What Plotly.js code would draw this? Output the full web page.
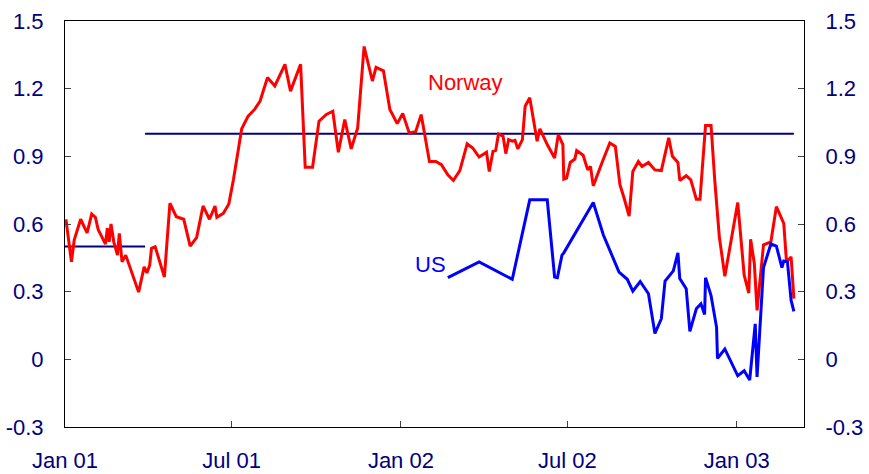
<!DOCTYPE html>
<html>
<head>
<meta charset="utf-8">
<script src="https://cdn.plot.ly/plotly-3.0.1.min.js"></script>
<style>html,body{margin:0;padding:0;background:#fff;}#chart{width:869px;height:474px;}</style>
</head>
<body>
<div id="chart"></div>
<script>
// Days since 2001-01-01 and values
var norwayDays = [1,7,10,17,24,29,33,36,44,46,48,50,53,57,59,62,66,80,86,89,92,94,98,108,114,121,129,136,143,150,157,163,165,172,178,183,192,199,206,212,220,228,239,245,256,261,269,276,284,291,297,304,311,318,325,334,338,346,353,361,367,374,381,387,396,403,409,416,422,429,437,443,450,458,461,465,468,471,476,479,482,486,489,492,497,500,505,508,513,516,524,532,536,541,542,545,549,554,556,563,568,571,574,584,592,598,603,607,613,617,623,627,634,641,648,656,660,666,668,675,680,686,690,696,702,706,711,717,731,738,743,745,749,752,759,767,773,781,784,789,792];
var norwayVals = [0.621,0.432,0.529,0.621,0.561,0.644,0.630,0.576,0.511,0.581,0.521,0.600,0.521,0.462,0.558,0.432,0.462,0.298,0.410,0.383,0.417,0.492,0.499,0.365,0.692,0.632,0.621,0.502,0.540,0.680,0.621,0.680,0.630,0.647,0.689,0.796,1.022,1.078,1.108,1.145,1.249,1.212,1.308,1.189,1.308,0.852,0.852,1.056,1.086,1.100,0.918,1.063,0.933,1.026,1.387,1.234,1.294,1.279,1.108,1.045,1.090,1.004,1.009,1.085,0.877,0.877,0.863,0.818,0.793,0.837,0.956,0.937,0.897,0.918,0.833,0.922,0.926,0.999,0.989,0.912,0.974,0.967,0.971,0.933,0.974,1.122,1.160,1.093,0.967,1.022,0.952,0.893,0.996,0.952,0.799,0.803,0.873,0.888,0.926,0.905,0.840,0.855,0.769,0.877,0.959,0.944,0.774,0.722,0.635,0.833,0.877,0.855,0.873,0.840,0.837,0.982,0.900,0.873,0.793,0.814,0.796,0.710,0.710,1.037,1.037,0.796,0.543,0.368,0.695,0.373,0.294,0.532,0.426,0.217,0.508,0.521,0.677,0.603,0.432,0.454,0.269];

var usDays = [416,450,486,505,524,532,535,540,542,574,585,602,611,617,625,634,641,648,652,661,666,668,675,679,686,691,695,696,702,708,709,717,731,738,744,750,752,759,767,773,779,781,785,789,792];
var usVals = [0.362,0.432,0.355,0.707,0.707,0.365,0.362,0.462,0.472,0.695,0.551,0.387,0.355,0.302,0.345,0.291,0.115,0.180,0.347,0.392,0.472,0.358,0.313,0.124,0.224,0.246,0.199,0.362,0.283,0.142,0.004,0.046,-0.073,-0.051,-0.092,0.157,-0.078,0.407,0.511,0.502,0.407,0.436,0.432,0.261,0.213];

var lowNeutralDays = [0, 87];
var lowNeutralVals = [0.5, 0.5];
var highNeutralDays = [87, 792];
var highNeutralVals = [1.0, 1.0];

var yTickVals = [-0.3, 0, 0.3, 0.6, 0.9, 1.2, 1.5];
var yTickText = ["-0.3", "0", "0.3", "0.6", "0.9", "1.2", "1.5"];
var xTickVals = ["2001-01-01", "2001-07-01", "2002-01-01", "2002-07-01", "2003-01-01"];
var xTickText = ["Jan 01", "Jul 01", "Jan 02", "Jul 02", "Jan 03"];

function toDate(d) {
  var t = new Date(Date.UTC(2001, 0, 1) + d * 86400000);
  return t.toISOString().slice(0, 10);
}

var navy = "#000080";
var fontFam = "Liberation Sans, Arial, sans-serif";

var traces = [
  {x: lowNeutralDays.map(toDate), y: lowNeutralVals, mode: "lines", line: {color: navy, width: 2}, hoverinfo: "skip"},
  {x: highNeutralDays.map(toDate), y: highNeutralVals, mode: "lines", line: {color: navy, width: 2}, hoverinfo: "skip"},
  {x: norwayDays.map(toDate), y: norwayVals, mode: "lines", name: "Norway", line: {color: "#FF0000", width: 3}},
  {x: usDays.map(toDate), y: usVals, mode: "lines", name: "US", yaxis: "y2", line: {color: "#0000FF", width: 3}}
];

var yCommon = {
  range: [-0.3, 1.5], tickvals: yTickVals, ticktext: yTickText,
  ticks: "inside", ticklen: 6, tickcolor: "#444", showgrid: false, zeroline: false,
  showline: true, linecolor: "#000", linewidth: 1,
  tickfont: {family: fontFam, size: 22, color: navy}, ticklabelstandoff: 16
};

var layout = {
  width: 869, height: 474,
  margin: {l: 65, r: 65, t: 21, b: 47},
  paper_bgcolor: "#fff", plot_bgcolor: "#fff",
  showlegend: false,
  xaxis: {
    type: "date", range: ["2001-01-01", "2003-03-15"],
    tickvals: xTickVals, ticktext: xTickText,
    ticks: "inside", ticklen: 6, tickcolor: "#444",
    showgrid: false, zeroline: false, showline: true, mirror: true,
    linecolor: "#000", linewidth: 1,
    tickfont: {family: fontFam, size: 22, color: navy}, ticklabelstandoff: 14
  },
  yaxis: Object.assign({}, yCommon, {side: "left"}),
  yaxis2: Object.assign({}, yCommon, {side: "right", overlaying: "y"}),
  annotations: [
    {x: toDate(435), y: 1.228, xref: "x", yref: "y", text: "Norway", showarrow: false,
     font: {family: fontFam, size: 22, color: "#FF0000"}},
    {x: toDate(397), y: 0.42, xref: "x", yref: "y", text: "US", showarrow: false,
     font: {family: fontFam, size: 22, color: "#0000FF"}}
  ]
};

Plotly.newPlot("chart", traces, layout, {staticPlot: true, displayModeBar: false});
</script>
</body>
</html>
